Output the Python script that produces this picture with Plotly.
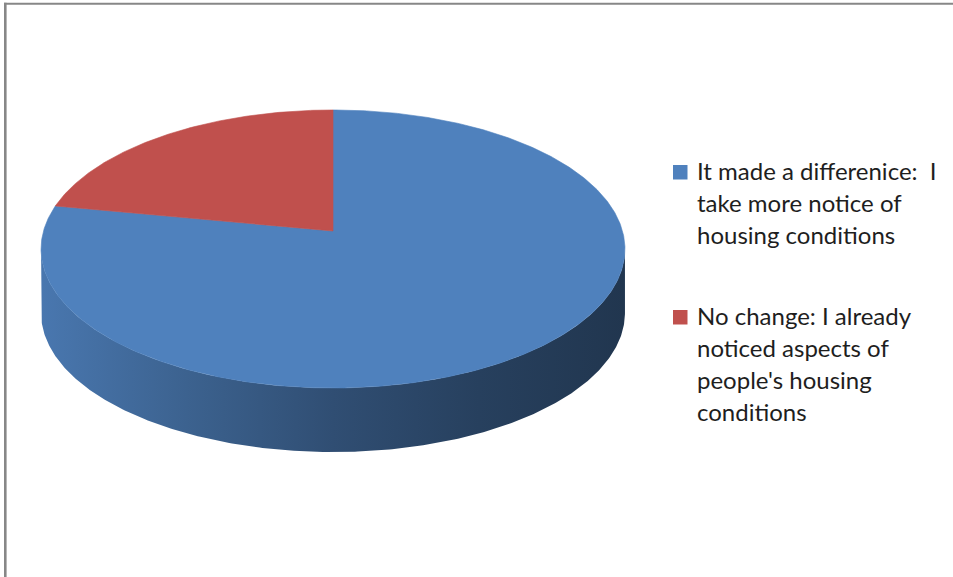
import numpy as np
import plotly.graph_objects as go

# ---------------- data ----------------
categories = [
    "It made a differenice:  I take more notice of housing conditions",
    "No change: I already noticed aspects of people's housing conditions",
]
legend_lines = [
    ["It made a differenice: \u00a0I", "take more notice of", "housing conditions"],
    ["No change: I already", "noticed aspects of", "people's housing", "conditions"],
]
values = [78, 22]
colors = ["#4F81BD", "#C0504D"]
title_text = "Housing and policies"

# ---------------- geometry (layout) ----------------
W, H = 953, 577
CX, VY = 333.0, 231.0          # projected pie centre (vertex)
SX, SY = 289.5, 136.7          # projection scale
K = 0.1295                     # perspective factor
DEPTH = 64.0                   # thickness of the pie


def proj(phi, dy=0.0):
    u = np.sin(phi)
    v = -np.cos(phi)
    w = 1.0 - K * v
    return CX + SX * u / w, VY + SY * v / w + dy


def shade(hexcol, f):
    h = hexcol.lstrip("#")
    r, g, b = (int(h[i:i + 2], 16) for i in (0, 2, 4))
    return "rgb({},{},{})".format(int(r * f), int(g * f), int(b * f))


total = float(sum(values))
fracs = [v / total for v in values]
starts = np.cumsum([0] + fracs[:-1]) * 2 * np.pi
ends = np.cumsum(fracs) * 2 * np.pi

# visible wall range (front part of the pie)
phiL = np.arccos(-K)
phiR = 2 * np.pi - phiL
rx_ell = SX / np.sqrt(1 - K * K)

fig = go.Figure()

# walls
for name, a0, a1, col in zip(categories, starts, ends, colors):
    s, e = max(a0, phiL), min(a1, phiR)
    if e <= s:
        continue
    n = max(4, int((e - s) / (2 * np.pi) * 720))
    ph = np.linspace(s, e, n)
    xt, yt = proj(ph)
    xb, yb = proj(ph[::-1], DEPTH)
    xs = np.concatenate([xt, xb, xt[:1]])
    ys = np.concatenate([yt, yb, yt[:1]])
    fig.add_trace(go.Scatter(
        x=xs, y=ys, mode="lines", line=dict(width=0), fill="toself",
        fillgradient=dict(
            type="horizontal", start=CX - rx_ell, stop=CX + rx_ell,
            colorscale=[[0, shade(col, 0.93)], [0.25, shade(col, 0.76)],
                        [0.5, shade(col, 0.61)], [0.75, shade(col, 0.5)],
                        [1, shade(col, 0.42)]]),
        hoverinfo="skip", showlegend=False))

# top faces
for name, a0, a1, col in zip(categories, starts, ends, colors):
    n = max(4, int((a1 - a0) / (2 * np.pi) * 720))
    ph = np.linspace(a0, a1, n)
    xa, ya = proj(ph)
    xs = np.concatenate([[CX], xa, [CX]])
    ys = np.concatenate([[VY], ya, [VY]])
    fig.add_trace(go.Scatter(
        x=xs, y=ys, mode="lines", line=dict(width=0.6, color=col),
        fill="toself", fillcolor=col, name=name,
        hoverinfo="skip", showlegend=False))

# ---------------- legend (manual) ----------------
LEG_X_BOX, LEG_X_TEXT = 673, 696
LEG_BASE = [180, 325]
LINE_H = 32
FS = 24
annotations = []
shapes = []
for lines, col, base in zip(legend_lines, colors, LEG_BASE):
    shapes.append(dict(type="rect", xref="x", yref="y",
                       x0=LEG_X_BOX, x1=LEG_X_BOX + 14.5,
                       y0=base - 15, y1=base - 0.5, fillcolor=col,
                       line=dict(width=0)))
    for i, t in enumerate(lines):
        annotations.append(dict(
            x=LEG_X_TEXT - 1, y=base + i * LINE_H - 9.5, xref="x", yref="y",
            text=t, showarrow=False, xanchor="left", yanchor="middle",
            font=dict(family="Lato", size=FS, color="#1e1e1e")))

# cut-off title (only its descenders reach into the picture)
annotations.append(dict(
    x=36 / W, y=1 + 15.0 / H, xref="paper", yref="paper",
    text="<b>" + title_text + "</b>",
    showarrow=False, xanchor="left", yanchor="middle",
    font=dict(family="Lato", size=24, color="#000000")))

# chart frame
shapes.append(dict(type="line", xref="x", yref="y", x0=4, x1=W + 5,
                   y0=3.7, y1=3.7, line=dict(color="#878787", width=2)))
shapes.append(dict(type="line", xref="x", yref="y", x0=5.3, x1=5.3,
                   y0=2.7, y1=H + 5, line=dict(color="#878787", width=2.6)))

fig.update_layout(
    width=W, height=H,
    margin=dict(l=0, r=0, t=0, b=0),
    paper_bgcolor="white", plot_bgcolor="white",
    xaxis=dict(range=[0, W], visible=False, fixedrange=True),
    yaxis=dict(range=[H, 0], visible=False, fixedrange=True),
    showlegend=False,
    annotations=annotations, shapes=shapes,
)

fig.write_html(
    "out.html",
    config={"displayModeBar": False, "staticPlot": True},
    post_script="document.body.style.margin='0';"
                "document.body.style.padding='0';"
                "document.body.style.overflow='hidden';",
)
